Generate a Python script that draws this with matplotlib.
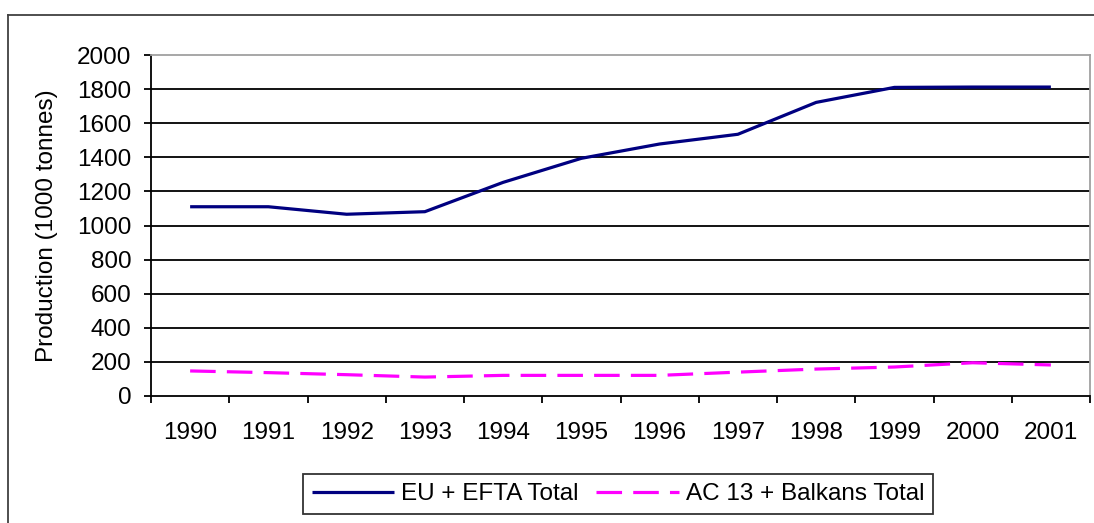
import matplotlib
matplotlib.use("Agg")
import matplotlib.pyplot as plt
from matplotlib.lines import Line2D
import numpy as np

years = ["1990", "1991", "1992", "1993", "1994", "1995", "1996",
         "1997", "1998", "1999", "2000", "2001"]
eu_efta = [1110, 1110, 1066, 1081, 1253, 1394, 1478, 1535, 1722, 1810, 1812, 1812]
ac13_balkans = [147, 137, 125, 111, 121, 121, 121, 140, 158, 170, 195, 182]
yticks = [0, 200, 400, 600, 800, 1000, 1200, 1400, 1600, 1800, 2000]

plt.rcParams['font.family'] = ['Liberation Sans', 'DejaVu Sans']
FS = 17.5

W, H = 1094, 523
fig = plt.figure(figsize=(W / 100, H / 100), dpi=100)
fig.patch.set_facecolor('white')

L, R, T, B = 151, 1090, 55, 396
ax = fig.add_axes([L / W, 1 - B / H, (R - L) / W, (B - T) / H])

x = np.arange(len(years)) + 0.5
ax.plot(x, eu_efta, color='#000080', lw=2.3, label='EU + EFTA Total', solid_capstyle='butt')
ax.plot(x, ac13_balkans, color='#FF00FF', lw=2.3, dashes=(8, 3.5),
        label='AC 13 + Balkans Total', dash_capstyle='butt')

ax.set_xlim(0, len(years))
ax.set_ylim(0, 2000)
ax.set_yticks(yticks)
ax.set_yticklabels([str(v) for v in yticks], fontsize=FS)
ax.set_xticks(np.arange(len(years) + 1))
ax.set_xticklabels([])
ax.set_xticks(x, minor=True)
ax.set_xticklabels(years, minor=True, fontsize=FS)
ax.tick_params(axis='x', which='minor', length=0, pad=19)
ax.tick_params(axis='x', which='major', length=5, width=1.3, direction='out', color='black')
ax.tick_params(axis='y', length=5, width=1.3, direction='out', pad=9, color='black')

for v in yticks[1:-1]:
    ax.axhline(v, color='black', lw=1.3, zorder=0.5)

for s in ['top', 'right']:
    ax.spines[s].set_color('#a0a0a0')
    ax.spines[s].set_linewidth(1.3)
for s in ['left', 'bottom']:
    ax.spines[s].set_color('black')
    ax.spines[s].set_linewidth(1.3)

ax.text((47 - L) / (R - L), 0.5, 'Production (1000 tonnes)', rotation=90,
        ha='center', va='center', fontsize=FS, transform=ax.transAxes)

leg = fig.legend(loc='center', bbox_to_anchor=(618 / W, 1 - 494 / H), ncol=2,
                 fontsize=FS, frameon=True, fancybox=False, borderpad=0.35,
                 handlelength=3.4, handletextpad=0.3, columnspacing=0.7,
                 borderaxespad=0)
leg.get_frame().set_edgecolor('black')
leg.get_frame().set_linewidth(1.3)

# outer chart border (left and top visible)
fig.add_artist(Line2D([8 / W, 8 / W], [1 - 15 / H, -0.1], transform=fig.transFigure,
                      color='#404040', lw=1.3))
fig.add_artist(Line2D([8 / W, 1.1], [1 - 15 / H, 1 - 15 / H], transform=fig.transFigure,
                      color='#404040', lw=1.3))

fig.savefig('out.png', dpi=100)
